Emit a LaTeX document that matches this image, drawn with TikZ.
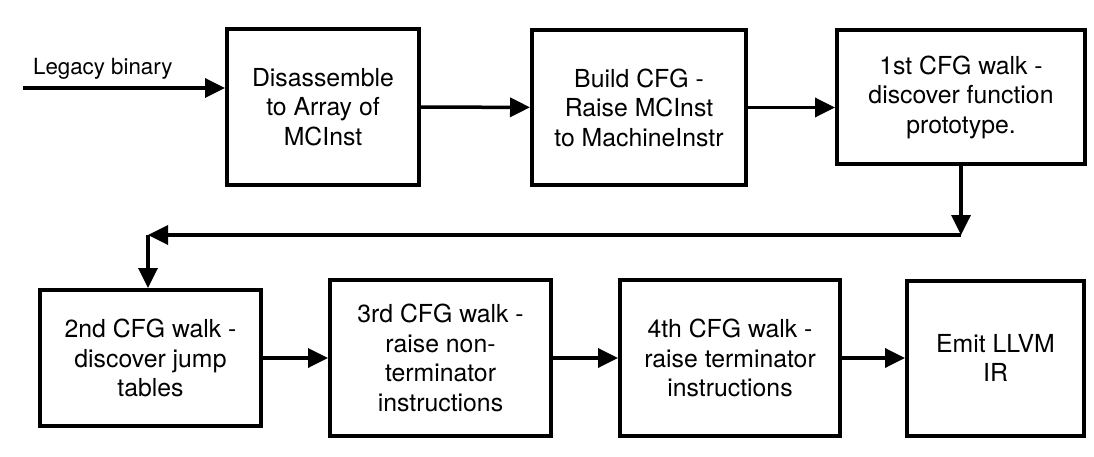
\documentclass[tikz,border=0pt]{standalone}
\usepackage{fontspec}
\setmainfont{TeX Gyre Heros}
\usetikzlibrary{arrows.meta}

\begin{document}
\begin{tikzpicture}[x=1pt,y=-1pt,
		stage/.style={draw,line width=4pt,inner sep=0pt,align=center,
			font=\fontsize{24.8}{29.5}\selectfont},
		flow/.style={line width=3.5pt,-{Triangle[length=20pt,width=19pt]}}]
		\useasboundingbox (0,0) rectangle (1094,457);
		% top row
		\node[stage,minimum width=192pt,minimum height=156pt] (dis) at (323,107)
			{Disassemble\\to Array of\\MCInst};
		\node[stage,minimum width=214pt,minimum height=155pt] (cfg) at (639,107.5)
			{Build CFG -\\Raise MCInst\\to MachineInstr};
		\node[stage,minimum width=248pt,minimum height=134pt] (walkA) at (961,97)
			{1st CFG walk -\\discover function\\prototype.};
		% bottom row
		\node[stage,minimum width=221pt,minimum height=136pt] (walkB) at (150.5,358)
			{2nd CFG walk -\\discover jump\\tables};
		\node[stage,minimum width=221pt,minimum height=156pt] (walkC) at (440.5,358)
			{3rd CFG walk -\\raise non-\\terminator\\instructions};
		\node[stage,minimum width=220pt,minimum height=156pt] (walkD) at (730,358)
			{4th CFG walk -\\raise terminator\\instructions};
		\node[stage,minimum width=177pt,minimum height=155pt] (emit) at (995.5,358)
			{Emit LLVM\\IR};
		% input
		\coordinate (src) at (23,88);
		\node[anchor=base west,inner sep=0pt,font=\fontsize{22.3}{26}\selectfont]
			(lbl) at (33,75) {Legacy binary};
		\draw[flow] (src) -- (src -| dis.west);
		\draw[flow] (dis) -- (cfg);
		\draw[flow] (cfg.east) -- (cfg.east -| walkA.west);
		% wrap around to second row
		\coordinate (turnR) at (961,235);
		\coordinate (turnL) at (148,235);
		\draw[flow] (walkA.south) -- (turnR);
		\draw[flow] (turnR) -- (turnL);
		\draw[flow] (turnL) -- (turnL |- walkB.north);
		\draw[flow] (walkB) -- (walkC);
		\draw[flow] (walkC) -- (walkD);
		\draw[flow] (walkD) -- (emit);
	\end{tikzpicture}
\end{document}
